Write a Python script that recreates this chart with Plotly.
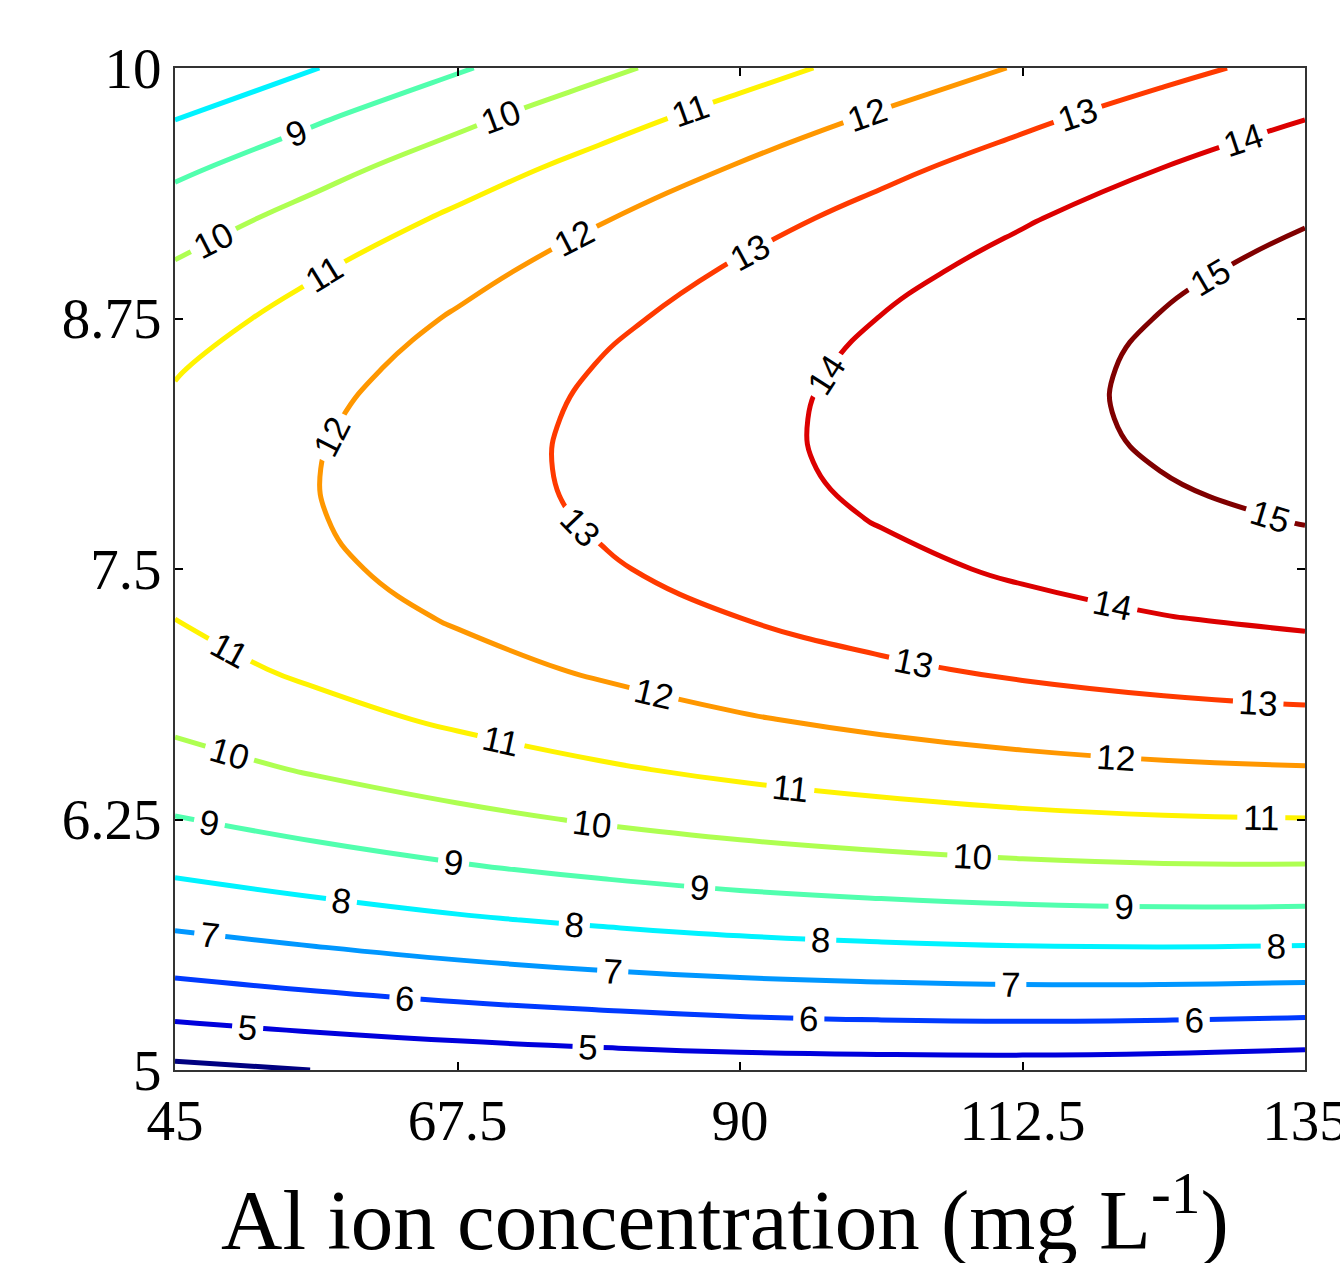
import plotly.graph_objects as go

# Axis grids (Al ion concentration, pH-like variable)
x_vals = [45, 56.25, 67.5, 78.75, 90, 101.25, 112.5, 123.75, 135]
y_vals = [5.0, 5.25, 5.5, 5.75, 6.0, 6.25, 6.5, 6.75, 7.0, 7.25, 7.5, 7.75,
          8.0, 8.25, 8.5, 8.75, 9.0, 9.25, 9.5, 9.75, 10.0]

# Response values estimated from the contour picture (rows = y, columns = x)
z_rows = [
    [3.78, 4.01, 4.22, 4.38, 4.50, 4.55, 4.56, 4.50, 4.37],
    [5.04, 5.32, 5.56, 5.75, 5.91, 6.00, 6.04, 6.01, 5.93],
    [6.19, 6.50, 6.78, 7.01, 7.20, 7.32, 7.40, 7.41, 7.36],
    [7.23, 7.57, 7.89, 8.15, 8.38, 8.54, 8.65, 8.70, 8.68],
    [8.15, 8.53, 8.88, 9.18, 9.44, 9.63, 9.78, 9.87, 9.88],
    [8.95, 9.37, 9.75, 10.09, 10.38, 10.61, 10.80, 10.92, 10.97],
    [9.64, 10.09, 10.51, 10.88, 11.21, 11.48, 11.70, 11.85, 11.94],
    [10.20, 10.69, 11.15, 11.56, 11.92, 12.23, 12.48, 12.67, 12.79],
    [10.66, 11.18, 11.67, 12.12, 12.52, 12.86, 13.15, 13.37, 13.53],
    [11.00, 11.55, 12.08, 12.56, 12.99, 13.37, 13.70, 13.96, 14.15],
    [11.22, 11.81, 12.37, 12.89, 13.36, 13.77, 14.13, 14.43, 14.66],
    [11.32, 11.95, 12.55, 13.10, 13.61, 14.05, 14.45, 14.78, 15.05],
    [11.31, 11.98, 12.61, 13.19, 13.74, 14.22, 14.65, 15.02, 15.32],
    [11.18, 11.88, 12.55, 13.17, 13.75, 14.27, 14.74, 15.14, 15.48],
    [10.94, 11.67, 12.38, 13.04, 13.65, 14.20, 14.71, 15.15, 15.52],
    [10.58, 11.35, 12.09, 12.78, 13.43, 14.02, 14.56, 15.04, 15.44],
    [10.10, 10.91, 11.69, 12.41, 13.10, 13.72, 14.30, 14.81, 15.25],
    [9.51, 10.35, 11.16, 11.93, 12.65, 13.31, 13.92, 14.47, 14.94],
    [8.80, 9.68, 10.53, 11.33, 12.08, 12.78, 13.42, 14.01, 14.52],
    [7.97, 8.89, 9.77, 10.61, 11.40, 12.13, 12.81, 13.43, 13.98],
    [7.03, 7.98, 8.90, 9.77, 10.60, 11.37, 12.08, 12.74, 13.32],
]

levels = [4, 5, 6, 7, 8, 9, 10, 11, 12, 13, 14, 15]
level_colors = ["#000080", "#0000DC", "#003AFF", "#0097FF", "#00F3FF", "#51FFAE",
                "#AEFF51", "#FFF300", "#FF9700", "#FF3A00", "#DC0000", "#800000"]

x_tickvals = [45, 67.5, 90, 112.5, 135]
x_ticktext = ["45", "67.5", "90", "112.5", "135"]
y_tickvals = [5, 6.25, 7.5, 8.75, 10]
y_ticktext = ["5", "6.25", "7.5", "8.75", "10"]
x_title = "Al ion concentration (mg L<sup>-1</sup>)"

# Plotly spaces inline labels according to the number of contour levels of the
# trace; extending the level range past the data (empty levels draw nothing)
# gives denser labelling like the original MATLAB clabel output.
level_end = 90
span = level_end - levels[0]
colorscale = [[(lv - levels[0]) / span, c] for lv, c in zip(levels, level_colors)]
colorscale.append([1.0, level_colors[-1]])

fig = go.Figure(go.Contour(
    x=x_vals, y=y_vals, z=z_rows,
    autocontour=False,
    colorscale=colorscale, showscale=False,
    contours=dict(start=levels[0], end=level_end, size=1, coloring="lines",
                  showlabels=True,
                  labelfont=dict(family="Liberation Sans", size=35, color="black")),
    line=dict(width=5, smoothing=1.3),
    hoverinfo="skip",
))

axis_font = dict(family="Liberation Serif", size=57, color="black")
fig.update_layout(
    width=1340, height=1263,
    margin=dict(l=175, r=35, t=68, b=193),
    paper_bgcolor="white", plot_bgcolor="white",
    showlegend=False,
    xaxis=dict(range=[45, 135], tickvals=x_tickvals, ticktext=x_ticktext,
               tickfont=axis_font, ticks="inside", ticklen=8, tickwidth=1.5,
               tickcolor="black", showline=True, linecolor="#333", linewidth=2,
               mirror="ticks", showgrid=False, zeroline=False,
               automargin=False, ticklabeloverflow="allow"),
    yaxis=dict(range=[5, 10], tickvals=y_tickvals, ticktext=y_ticktext,
               tickfont=axis_font, ticks="inside", ticklen=8, tickwidth=1.5,
               tickcolor="black", showline=True, linecolor="#333", linewidth=2,
               mirror="ticks", showgrid=False, zeroline=False,
               automargin=False, ticklabeloverflow="allow"),
    annotations=[dict(text=x_title, xref="paper", yref="paper",
                      x=0.4867, y=-0.2, xanchor="center", yanchor="bottom",
                      showarrow=False,
                      font=dict(family="Liberation Serif", size=85, color="black"))],
)

fig.write_html("out.html",
               config={"displayModeBar": False},
               post_script="document.body.style.margin='0';"
                           "document.body.style.overflow='hidden';")
